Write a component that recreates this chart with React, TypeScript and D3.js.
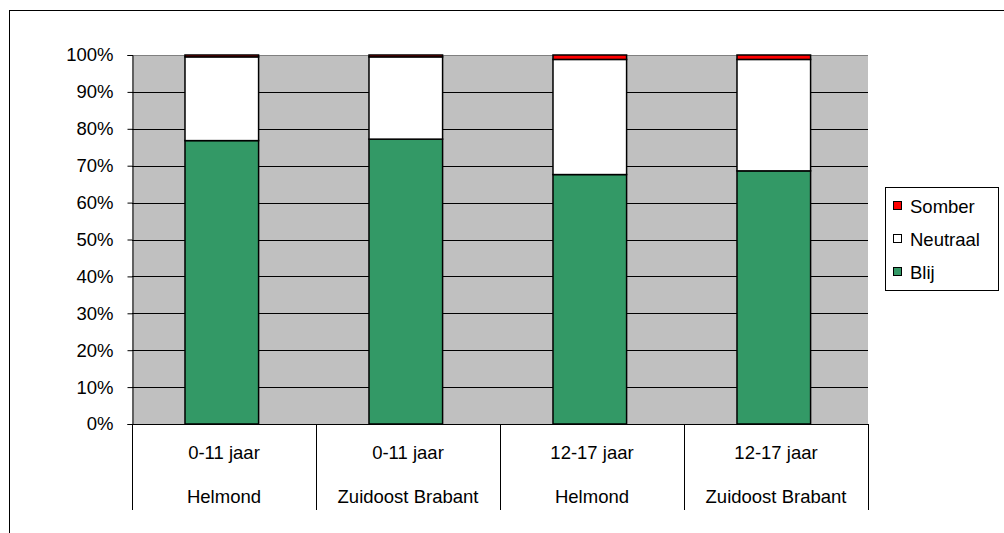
import React, { useEffect, useRef } from 'react';
import * as d3 from 'd3';

const ageGroups = ['0-11 jaar', '0-11 jaar', '12-17 jaar', '12-17 jaar'];
const regions = ['Helmond', 'Zuidoost Brabant', 'Helmond', 'Zuidoost Brabant'];
const blij = [76.8, 77.2, 67.6, 68.6];
const neutraal = [22.7, 22.3, 31.2, 30.2];
const somber = [0.5, 0.5, 1.2, 1.2];
const seriesNames = ['Blij', 'Neutraal', 'Somber'];
const seriesColors = ['#339966', '#ffffff', '#ff0000'];
const yTicks = [0, 10, 20, 30, 40, 50, 60, 70, 80, 90, 100];

const App = () => {
  const ref = useRef<SVGSVGElement>(null);

  useEffect(() => {
    const svg = d3.select(ref.current);
    svg.selectAll('*').remove();
    const font = 'Liberation Sans, Arial, sans-serif';
    const fs = 18.5;

    // outer frame (runs past the window edge)
    svg.append('rect')
      .attr('x', 9.5).attr('y', 10.5)
      .attr('width', 1000).attr('height', 540)
      .attr('fill', '#fff').attr('stroke', '#000');

    const left = 132, right = 868, top = 55, bottom = 424;
    const idx = d3.range(ageGroups.length);
    const x = d3.scaleBand<number>().domain(idx).range([left, right])
      .paddingInner(0.6).paddingOuter(0.3).align(0.48);
    const xOuter = d3.scaleBand<number>().domain(idx).range([left, right]);
    const y = d3.scaleLinear().domain([0, 100]).range([bottom, top]);

    svg.append('rect')
      .attr('x', left).attr('y', top)
      .attr('width', right - left).attr('height', bottom - top)
      .attr('fill', '#c0c0c0');

    // gridlines
    svg.append('g').selectAll('line').data(yTicks.filter(t => t > 0)).enter().append('line')
      .attr('x1', left).attr('x2', right)
      .attr('y1', d => Math.round(y(d)) + 0.5).attr('y2', d => Math.round(y(d)) + 0.5)
      .attr('stroke', d => (d === 100 ? '#808080' : '#000')).attr('stroke-width', 1);

    // y axis
    const yAxis = svg.append('g').attr('transform', `translate(${left + 0.5},0)`)
      .call(d3.axisLeft(y).tickValues(yTicks).tickFormat(d => `${d}%`).tickSize(5).tickPadding(14));
    yAxis.select('.domain').attr('stroke', '#000');
    yAxis.selectAll('.tick line').attr('stroke', '#000');
    yAxis.selectAll('text').attr('font-family', font).attr('font-size', fs).attr('fill', '#000');

    // stacked bars
    const rows = idx.map(i => ({ i, Blij: blij[i], Neutraal: neutraal[i], Somber: somber[i] }));
    const stack = d3.stack<any>().keys(seriesNames)(rows);
    stack.forEach((layer, k) => {
      svg.append('g').selectAll('rect').data(layer).enter().append('rect')
        .attr('x', (d: any) => x(d.data.i)!)
        .attr('width', x.bandwidth())
        .attr('y', (d: any) => y(d[1]))
        .attr('height', (d: any) => y(d[0]) - y(d[1]))
        .attr('fill', seriesColors[k])
        .attr('stroke', '#000').attr('stroke-width', 1.5);
    });

    // x axis line
    svg.append('line').attr('x1', left).attr('x2', right)
      .attr('y1', bottom + 0.5).attr('y2', bottom + 0.5).attr('stroke', '#000');

    // category separators
    const seps = idx.map(i => xOuter(i)!).concat([right]);
    svg.append('g').selectAll('line').data(seps).enter().append('line')
      .attr('x1', d => Math.round(d) + 0.5).attr('x2', d => Math.round(d) + 0.5)
      .attr('y1', bottom).attr('y2', 510).attr('stroke', '#000');

    const labels = svg.append('g').attr('font-family', font).attr('font-size', fs).attr('text-anchor', 'middle');
    labels.selectAll('text.age').data(idx).enter().append('text')
      .attr('x', i => xOuter(i)! + xOuter.bandwidth() / 2).attr('y', 459).text(i => ageGroups[i]);
    labels.selectAll('text.reg').data(idx).enter().append('text')
      .attr('x', i => xOuter(i)! + xOuter.bandwidth() / 2).attr('y', 503).text(i => regions[i]);

    // legend
    const lg = svg.append('g');
    lg.append('rect').attr('x', 885.5).attr('y', 187.5).attr('width', 113).attr('height', 103)
      .attr('fill', '#fff').attr('stroke', '#000');
    const order = [2, 1, 0];
    order.forEach((k, j) => {
      const cy = 206 + j * 33;
      lg.append('rect').attr('x', 893.5).attr('y', cy - 4.5).attr('width', 8).attr('height', 8)
        .attr('fill', seriesColors[k]).attr('stroke', '#000').attr('stroke-width', 1);
      lg.append('text').attr('x', 910).attr('y', cy + 6.5)
        .attr('font-family', font).attr('font-size', fs).text(seriesNames[k]);
    });
  }, []);

  return (
    <svg ref={ref} width={1004} height={533}
      style={{ position: 'absolute', left: 0, top: 0, display: 'block' }} />
  );
};

export default App;
